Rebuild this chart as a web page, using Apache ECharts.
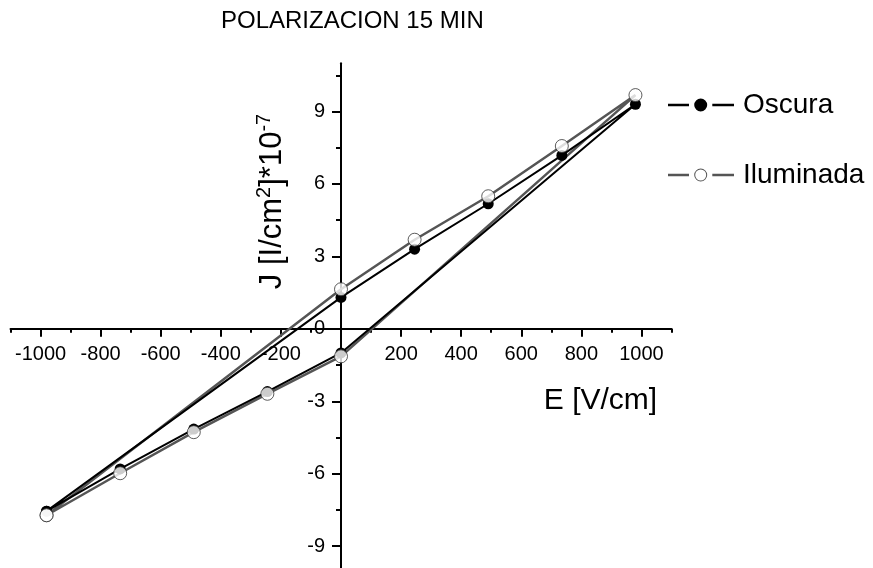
<!DOCTYPE html>
<html>
<head>
<meta charset="utf-8">
<script src="https://cdn.jsdelivr.net/npm/echarts@6/dist/echarts.min.js"></script>
<style>
  html, body { margin: 0; padding: 0; background: #fff; }
  #chart { width: 873px; height: 568px; }
</style>
</head>
<body>
<div id="chart"></div>
<script>
const FONT = '"Liberation Sans", Arial, Helvetica, sans-serif';

// Field sweep: lower branch -980 -> 0, jump to +980, upper branch back to 0, close at -980
const fieldSweep = [-980, -735, -490, -245, 0, 980, 735, 490, 245, 0, -980];
const oscura     = [-7.55, -5.8, -4.15, -2.6, -1.0, 9.3, 7.18, 5.18, 3.3, 1.3, -7.55];
const iluminada  = [-7.72, -5.98, -4.28, -2.69, -1.14, 9.68, 7.57, 5.49, 3.69, 1.64, -7.72];

const seriesNames = ['Oscura', 'Iluminada'];

const xMajorTicks = [-1000, -800, -600, -400, -200, 0, 200, 400, 600, 800, 1000];
const xTickLabels = [-1000, -800, -600, -400, -200, 200, 400, 600, 800, 1000];
const xMinorTicks = [-1100, -900, -700, -500, -300, -100, 100, 300, 500, 700, 900, 1100];
const yMajorTicks = [-9, -6, -3, 0, 3, 6, 9];
const yTickLabels = [-9, -6, -3, 0, 3, 6, 9];
const yMinorTicks = [-10.5, -7.5, -4.5, -1.5, 1.5, 4.5, 7.5, 10.5];

const X_RANGE = [-1100, 1100];
const Y_RANGE = [-12, 11];

const pairs = ys => fieldSweep.map((x, i) => [x, ys[i]]);
const near = (v, list) => list.some(t => Math.abs(t - v) < 1e-6);

// legend glyphs: dash – marker – dash
const iconFilled = 'path://M0 5.2H21V7.8H0Z M26.2 6.5A6.5 6.5 0 1 0 39.2 6.5A6.5 6.5 0 1 0 26.2 6.5Z M44.3 5.2H66V7.8H44.3Z';
const iconOpen = 'path://M0 5.2H21V7.8H0Z M26.2 6.5A6.5 6.5 0 1 0 39.2 6.5A6.5 6.5 0 1 0 26.2 6.5Z M27.2 6.5A5.5 5.5 0 1 1 38.2 6.5A5.5 5.5 0 1 1 27.2 6.5Z M44.3 5.2H66V7.8H44.3Z';

const chart = echarts.init(document.getElementById('chart'), null, { renderer: 'canvas' });

const baseAxis = {
  type: 'value',
  splitLine: { show: false },
  minorTick: { show: false }
};

chart.setOption({
  backgroundColor: '#fff',
  animation: false,
  title: {
    text: 'POLARIZACION 15 MIN',
    left: 221,
    top: 9,
    padding: 0,
    textStyle: { fontFamily: FONT, fontSize: 24, fontWeight: 'normal', color: '#000' }
  },
  legend: {
    orient: 'vertical',
    left: 668,
    top: 91,
    padding: 0,
    itemWidth: 66,
    itemHeight: 13,
    itemGap: 42,
    textStyle: { fontFamily: FONT, fontSize: 28, color: '#000', padding: [0, 0, 0, 4] },
    data: [
      { name: seriesNames[0], icon: iconFilled, itemStyle: { color: '#000', borderWidth: 0 } },
      { name: seriesNames[1], icon: iconOpen, itemStyle: { color: '#555', borderWidth: 0 } }
    ]
  },
  grid: {
    left: 10.5,
    width: 661,
    top: 63.2,
    height: 555.4,
    containLabel: false,
    outerBoundsMode: 'none'
  },
  xAxis: [
    Object.assign({}, baseAxis, {
      min: X_RANGE[0], max: X_RANGE[1], interval: 100,
      position: 'bottom',
      axisLine: { onZero: false, lineStyle: { color: '#000', width: 2 } },
      axisTick: { customValues: xMajorTicks, length: 8, lineStyle: { color: '#000', width: 2 } },
      axisLabel: {
        interval: 0,
        margin: 16, fontFamily: FONT, fontSize: 20, color: '#000',
        formatter: v => (near(v, xTickLabels) ? String(v) : '')
      }
    }),
    Object.assign({}, baseAxis, {
      min: X_RANGE[0], max: X_RANGE[1], interval: 100,
      position: 'top',
      axisLine: { show: false, onZero: false },
      axisTick: { customValues: xMinorTicks, inside: true, length: 4, lineStyle: { color: '#000', width: 2 } },
      axisLabel: { show: false }
    })
  ],
  yAxis: [
    Object.assign({}, baseAxis, {
      min: Y_RANGE[0], max: Y_RANGE[1], interval: 1.5,
      position: 'left',
      axisLine: { onZero: false, lineStyle: { color: '#000', width: 2 } },
      axisTick: { customValues: yMajorTicks, length: 9, lineStyle: { color: '#000', width: 2 } },
      axisLabel: {
        interval: 0,
        margin: 16, fontFamily: FONT, fontSize: 20, color: '#000',
        formatter: v => (near(v, yTickLabels) ? String(Math.round(v)) : '')
      }
    }),
    Object.assign({}, baseAxis, {
      min: Y_RANGE[0], max: Y_RANGE[1], interval: 1.5,
      position: 'right',
      axisLine: { show: false, onZero: false },
      axisTick: { customValues: yMinorTicks, inside: true, length: 5, lineStyle: { color: '#000', width: 2 } },
      axisLabel: { show: false }
    })
  ],
  graphic: [
    {
      type: 'text',
      x: 600.5,
      y: 400.5,
      style: {
        text: 'E [V/cm]',
        fontFamily: FONT, fontSize: 30, fill: '#000',
        align: 'center', verticalAlign: 'middle'
      }
    },
    {
      type: 'text',
      x: 272.5,
      y: 201.5,
      rotation: Math.PI / 2,
      style: {
        text: '{m|J [I/cm}{s|2}{m|]*10}{s|-7}',
        align: 'center', verticalAlign: 'middle',
        rich: {
          m: { fontFamily: FONT, fontSize: 31, lineHeight: 37, fill: '#000' },
          s: { fontFamily: FONT, fontSize: 20, lineHeight: 20, fill: '#000', verticalAlign: 'top' }
        }
      }
    }
  ],
  series: [
    {
      // connecting line of the illuminated loop (drawn beneath the dark loop)
      name: seriesNames[1],
      type: 'line',
      data: pairs(iluminada),
      showSymbol: false,
      symbol: 'none',
      lineStyle: { color: '#555', width: 2.5 },
      itemStyle: { color: '#555' },
      z: 2,
      silent: true
    },
    {
      name: seriesNames[0],
      type: 'line',
      data: pairs(oscura),
      symbol: 'circle',
      symbolSize: 11,
      lineStyle: { color: '#000', width: 2 },
      itemStyle: { color: '#000' },
      z: 3,
      silent: true
    },
    {
      // open markers of the illuminated loop (on top)
      name: seriesNames[1],
      type: 'scatter',
      data: pairs(iluminada),
      symbol: 'circle',
      symbolSize: 13,
      itemStyle: { color: '#fff', borderColor: '#333', borderWidth: 1 },
      z: 4,
      silent: true
    }
  ]
});

// Move both axis pairs onto the origin so they cross at (0, 0), labels included.
const finder = { xAxisIndex: 0, yAxisIndex: 0 };
const origin = chart.convertToPixel(finder, [0, 0]);
const lowCorner = chart.convertToPixel(finder, [X_RANGE[0], Y_RANGE[0]]);
const highCorner = chart.convertToPixel(finder, [X_RANGE[1], Y_RANGE[1]]);
chart.setOption({
  xAxis: [
    { offset: origin[1] - lowCorner[1] },
    { offset: highCorner[1] - origin[1] }
  ],
  yAxis: [
    { offset: lowCorner[0] - origin[0] },
    { offset: origin[0] - highCorner[0] }
  ]
});
</script>
</body>
</html>
